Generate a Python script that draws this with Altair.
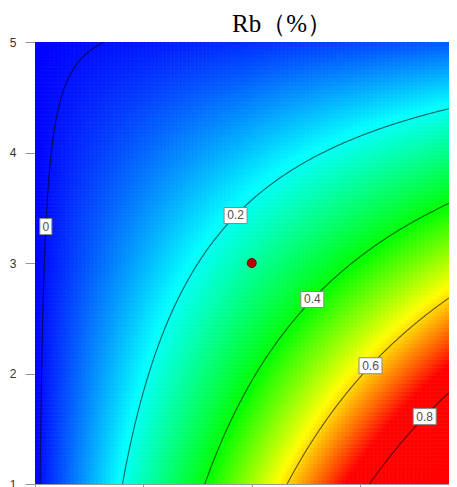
import numpy as np
import pandas as pd
import altair as alt

# ---- contour points: (x, y) pairs on each labelled level ----
levels = [0.0, 0.2, 0.4, 0.6, 0.8]
c0_x = [1.05, 1.06, 1.066, 1.075, 1.09, 1.115, 1.136, 1.166, 1.226, 1.287, 1.377, 1.48, 1.59, 1.66]
c0_y = [1.0, 2.0, 2.3, 3.0, 3.33, 3.6, 3.83, 4.13, 4.43, 4.58, 4.74, 4.86, 4.95, 5.0]
c2_x = [1.81, 1.95, 2.16, 2.45, 2.79, 3.136, 4.0, 4.27, 4.82]
c2_y = [1.0, 1.67, 2.30, 2.91, 3.43, 3.66, 4.11, 4.23, 4.385]
c4_x = [2.57, 2.90, 3.256, 3.50, 4.36, 4.82]
c4_y = [1.0, 1.745, 2.30, 2.67, 3.39, 3.525]
c6_x = [3.34, 3.60, 4.05, 4.36, 4.42, 4.81]
c6_y = [1.0, 1.44, 2.07, 2.30, 2.35, 2.665]
c8_x = [4.11, 4.538, 4.665, 4.78]
c8_y = [1.0, 1.609, 1.67, 1.775]
traced = [(c0_x, c0_y), (c2_x, c2_y), (c4_x, c4_y), (c6_x, c6_y), (c8_x, c8_y)]

# contour label positions (y)
label_text = ["0", "0.2", "0.4", "0.6", "0.8"]
label_y = [3.33, 3.43, 2.67, 2.07, 1.61]

# design point
point_x = [3.0]
point_y = [3.0]

# colour stops of the response gradient
color_domain = [-0.012, 0.19, 0.405, 0.575, 0.74]
color_range = ["#0000ff", "#00ffff", "#00ff00", "#ffff00", "#ff0000"]

# visible part of the factor ranges (the picture is cut at the right edge)
x_min, x_max = 1.0, 4.82
y_min, y_max = 1.0, 5.0
axis_ticks = [1, 2, 3, 4, 5]
title_text = ["Rb（%）"]

# ---- fit the two-factor-interaction model f = b0 + b1 x + b2 y + b12 x y to the traced points ----
rows, rhs = [], []
for lev, (xs, ys) in zip(levels, traced):
    for xv, yv in zip(xs, ys):
        rows.append([1.0, xv, yv, xv * yv])
        rhs.append(lev)
b0, b1, b2, b12 = np.linalg.lstsq(np.array(rows), np.array(rhs), rcond=None)[0]


def model(x, y):
    return b0 + b1 * x + b2 * y + b12 * x * y


# ---- heat map grid ----
nx, ny = 104, 110
ex = np.linspace(x_min, x_max, nx + 1)
ey = np.linspace(y_min, y_max, ny + 1)
X0, Y0 = np.meshgrid(ex[:-1], ey[:-1])
X1, Y1 = np.meshgrid(ex[1:], ey[1:])
CX, CY = (X0 + X1) / 2, (Y0 + Y1) / 2
heat = pd.DataFrame({
    "x0": X0.ravel(), "x1": X1.ravel(), "y0": Y0.ravel(), "y1": Y1.ravel(),
    "v": model(CX, CY).ravel(),
})

# ---- contour lines from the fitted model ----
line_rows = []
for lev in levels:
    ys = np.linspace(y_min, y_max, 801)
    xs_from_y = (lev - b0 - b2 * ys) / (b1 + b12 * ys)
    xs = np.linspace(x_min, x_max, 801)
    den = b2 + b12 * xs
    ok = np.abs(den) > 1e-9
    ys_from_x = np.full_like(xs, np.nan)
    ys_from_x[ok] = (lev - b0 - b1 * xs[ok]) / den[ok]
    px = np.concatenate([xs_from_y, xs])
    py = np.concatenate([ys, ys_from_x])
    keep = (np.isfinite(px) & np.isfinite(py) & (px >= x_min) & (px <= x_max)
            & (py >= y_min) & (py <= y_max))
    px, py = px[keep], py[keep]
    order = np.lexsort((py, px))
    for i, k in enumerate(order):
        line_rows.append({"level": lev, "x": px[k], "y": py[k], "o": i})
lines = pd.DataFrame(line_rows)

labels = pd.DataFrame({
    "text": label_text,
    "y": label_y,
    "x": [(lev - b0 - b2 * yv) / (b1 + b12 * yv) for lev, yv in zip(levels, label_y)],
})
labels["wide"] = labels["text"].str.len() > 1

pts = pd.DataFrame({"x": point_x, "y": point_y})
ttl = pd.DataFrame({"t": title_text})

xs_scale = alt.Scale(domain=[x_min, x_max], nice=False, zero=False)
ys_scale = alt.Scale(domain=[y_min, y_max], nice=False, zero=False)
cscale = alt.Scale(type="linear", domain=color_domain, range=color_range, clamp=True, interpolate="rgb")

x_axis = alt.Axis(values=axis_ticks, labels=False, title=None, grid=False, tickSize=10)
y_axis = alt.Axis(values=axis_ticks, format="d", title=None, grid=False, tickSize=10, labelPadding=9)

heat_layer = alt.Chart(heat).mark_rect(strokeWidth=0.6, clip=True).encode(
    x=alt.X("x0:Q", scale=xs_scale, axis=x_axis),
    x2="x1:Q",
    y=alt.Y("y0:Q", scale=ys_scale, axis=y_axis),
    y2="y1:Q",
    color=alt.Color("v:Q", scale=cscale, legend=None),
    stroke=alt.Stroke("v:Q", scale=cscale, legend=None),
)

line_layer = alt.Chart(lines).mark_line(color="#000000", opacity=0.6, strokeWidth=1.1, clip=True).encode(
    x=alt.X("x:Q", scale=xs_scale),
    y=alt.Y("y:Q", scale=ys_scale),
    detail="level:N",
    order="o:Q",
)

dot_layer = alt.Chart(pts).mark_point(filled=True, size=80, color="#bb0000", stroke="#660000",
                                      strokeWidth=1, opacity=1).encode(
    x=alt.X("x:Q", scale=xs_scale),
    y=alt.Y("y:Q", scale=ys_scale),
)

box_wide = alt.Chart(labels).transform_filter("datum.wide").mark_rect(
    width=23, height=16, fill="white", stroke="#888888", strokeWidth=1).encode(
    x=alt.X("x:Q", scale=xs_scale), y=alt.Y("y:Q", scale=ys_scale))
box_narrow = alt.Chart(labels).transform_filter("!datum.wide").mark_rect(
    width=12, height=16, fill="white", stroke="#888888", strokeWidth=1).encode(
    x=alt.X("x:Q", scale=xs_scale), y=alt.Y("y:Q", scale=ys_scale))
text_layer = alt.Chart(labels).mark_text(font="Liberation Sans", fontSize=12, color="#505050").encode(
    x=alt.X("x:Q", scale=xs_scale), y=alt.Y("y:Q", scale=ys_scale), text="text:N")

title_layer = alt.Chart(ttl).mark_text(font="Liberation Serif", fontSize=25, color="#000000",
                                       align="left", baseline="alphabetic").encode(
    x=alt.value(197), y=alt.value(-10), text="t:N")

chart = alt.layer(heat_layer, line_layer, dot_layer, box_wide, box_narrow, text_layer,
                  title_layer).properties(
    width=414, height=442,
    padding={"left": 27, "top": 34, "right": 0, "bottom": 3},
    autosize=alt.AutoSizeParams(type="none"),
).configure_view(stroke="#aaaaaa", strokeWidth=1).configure_axis(
    domainColor="#999999", tickColor="#999999", labelColor="#333333",
    labelFont="Liberation Sans", labelFontSize=12,
)

chart.save("out.html", embed_options={"renderer": "svg", "actions": False})
